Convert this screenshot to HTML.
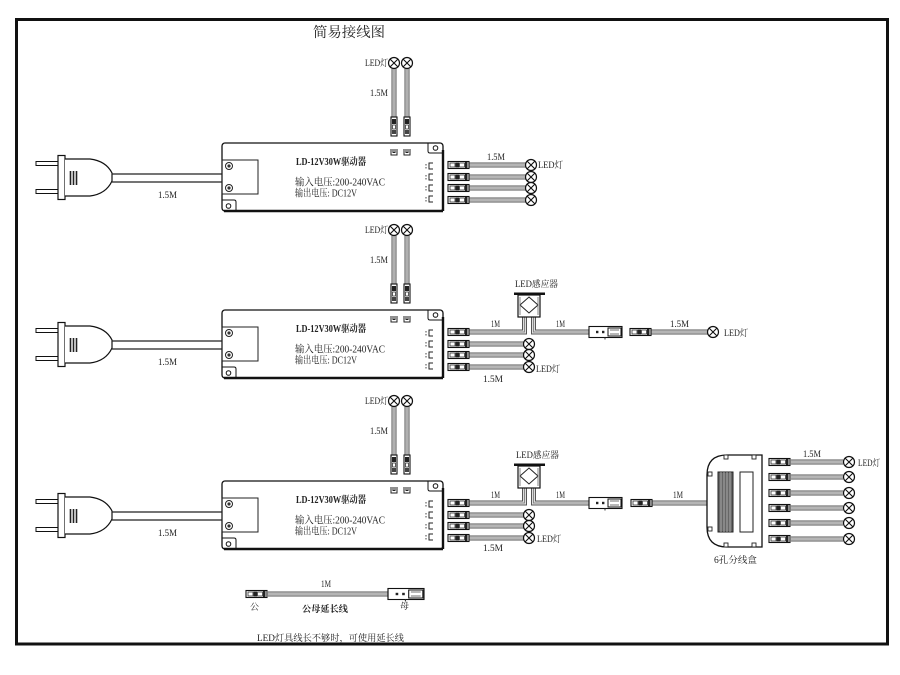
<!DOCTYPE html>
<html><head><meta charset="utf-8"><style>
html,body{margin:0;padding:0;background:#fff;}
svg{display:block;}
text{font-family:"Liberation Serif","Noto Serif CJK SC","Noto Sans CJK SC",serif;fill:#222;}
.s{font-size:9px;}
.d{font-size:10px;}
</style></head><body>
<svg width="900" height="675" viewBox="0 0 900 675" xmlns="http://www.w3.org/2000/svg">
<defs>
 <g id="lamp"><circle r="5.5" fill="#fff" stroke="#111" stroke-width="1.2"/><path d="M-3.9,-3.9L3.9,3.9M3.9,-3.9L-3.9,3.9" stroke="#111" stroke-width="1.1"/></g>
 <g id="conn">
  <rect x="0" y="-3.5" width="21" height="7" fill="#fff" stroke="#111" stroke-width="1.1"/>
  <rect x="2" y="-2" width="5" height="4" fill="#fff" stroke="#333" stroke-width="0.8"/>
  <rect x="7.5" y="-2.5" width="3.5" height="5" fill="#222"/>
  <rect x="11.5" y="-2" width="5" height="4" fill="#fff" stroke="#333" stroke-width="0.8"/>
  <rect x="17" y="-3" width="2.5" height="6" fill="#222"/>
 </g>
 <g id="vconn">
  <rect x="-3" y="0" width="6" height="19" fill="#fff" stroke="#111" stroke-width="1.1"/>
  <rect x="-2" y="2" width="4" height="5" fill="#222"/>
  <rect x="-1.5" y="8" width="3" height="4" fill="#fff" stroke="#333" stroke-width="0.8"/>
  <rect x="-2" y="13" width="4" height="4" fill="#444"/>
 </g>
 <g id="fconn">
  <rect x="0" y="-5.5" width="33" height="11" fill="#fff" stroke="#111" stroke-width="1.1"/>
  <rect x="7" y="-1.2" width="2.4" height="2.4" fill="#222"/>
  <rect x="13" y="-1.2" width="2.4" height="2.4" fill="#222"/>
  <rect x="19" y="-4" width="13" height="8" fill="#fff" stroke="#111" stroke-width="1"/>
  <path d="M21,-2H30M21,2H30" stroke="#444" stroke-width="0.7"/>
  <path d="M16,5.5V7.5" stroke="#333" stroke-width="1"/>
 </g>
 <g id="base">
  <!-- plug -->
  <rect x="36" y="161.5" width="22" height="4" fill="#fff" stroke="#111" stroke-width="1"/>
  <rect x="36" y="189.5" width="22" height="4" fill="#fff" stroke="#111" stroke-width="1"/>
  <rect x="58" y="155.5" width="7" height="44" fill="#fff" stroke="#111" stroke-width="1.2"/>
  <path d="M65,159 H90 Q106,161 112,173 V181 Q106,194 90,196 H65" fill="#fff" stroke="#111" stroke-width="1.2"/>
  <path d="M70.5,171V185M73.5,171V185M76.5,171V185" stroke="#222" stroke-width="1.6"/>
  <path d="M112,174H222M112,182H222" stroke="#222" stroke-width="1.2"/>
  <!-- driver -->
  <rect x="222" y="143" width="221" height="68" rx="3" fill="#fff" stroke="#111" stroke-width="1.3"/>
  <path d="M443,150V211M224,211H443" stroke="#111" stroke-width="2.4"/>
  <path d="M428,143V151Q428,153 430,153H443" fill="none" stroke="#111" stroke-width="1"/>
  <circle cx="435.5" cy="148" r="2.3" fill="none" stroke="#111" stroke-width="1"/>
  <path d="M222,200H234Q236,200 236,202V211" fill="none" stroke="#111" stroke-width="1"/>
  <circle cx="228.5" cy="206" r="2.3" fill="none" stroke="#111" stroke-width="1"/>
  <rect x="222" y="160" width="36" height="34" fill="none" stroke="#222" stroke-width="1"/>
  <circle cx="229" cy="166" r="3.5" fill="#fff" stroke="#222" stroke-width="1"/>
  <circle cx="229" cy="166" r="1.6" fill="#333"/>
  <circle cx="229" cy="188" r="3.5" fill="#fff" stroke="#222" stroke-width="1"/>
  <circle cx="229" cy="188" r="1.6" fill="#333"/>
  <path d="M391,149V155H397V149M393,149V152.5H395V149M404,149V155H410V149M406,149V152.5H408V149" fill="none" stroke="#222" stroke-width="1"/>
  <path d="M433,163H429V169H433M433,174H429V180H433M433,185H429V191H433M433,196H429V202H433" fill="none" stroke="#222" stroke-width="1"/>
  <path d="M426,164V165.5M426,167V168.5M426,175V176.5M426,178V179.5M426,186V187.5M426,189V190.5M426,197V198.5M426,200V201.5" stroke="#444" stroke-width="1"/>
  <!-- top verticals -->
  <use href="#lamp" x="394" y="63"/>
  <use href="#lamp" x="407" y="63"/>
  <use href="#vconn" x="394" y="117"/>
  <use href="#vconn" x="407" y="117"/>
  <!-- outputs -->
  <use href="#conn" x="448" y="165"/>
  <use href="#conn" x="448" y="177"/>
  <use href="#conn" x="448" y="188"/>
  <use href="#conn" x="448" y="200"/>
 </g>
 <g id="cab1">
  <path d="M394,69V117M407,69V117M469,165H525.5M469,177H525.5M469,188H525.5M469,200H525.5"/>
 </g>
 <g id="cab2">
  <path d="M394,69V117M407,69V117M469,165H524.5V150M533.5,150V165H589M651,165H707.5M469,177H523.5M469,188H523.5M469,200H523.5"/>
 </g>
 <g id="cab3">
  <path d="M394,69V117M407,69V117M469,165H524.5V150M533.5,150V165H589M652,165H707M469,177H523.5M469,188H523.5M469,200H523.5M791,124H843M791,139H843M791,155H843M791,170H843M791,185H843M791,201H843"/>
 </g>
 <g id="sensor">
  <rect x="514" y="125.5" width="31" height="2.5" fill="#111"/>
  <rect x="518" y="128" width="22" height="22" fill="#fff" stroke="#111" stroke-width="1.2"/>
  <path d="M529,130L538,138L529,146L520,138Z" fill="#fff" stroke="#222" stroke-width="1"/>
  <path d="M520,130V148M538,130V148" stroke="#666" stroke-width="0.8"/>
 </g>
</defs>

<!-- frame -->
<rect x="16.5" y="19.5" width="871" height="624.5" fill="none" stroke="#111" stroke-width="3"/>
<text x="313" y="37" font-size="14" textLength="72" lengthAdjust="spacingAndGlyphs">简易接线图</text>

<!-- ROW 1 -->
<g>
 <use href="#cab1" fill="none" stroke="#555" stroke-width="5"/>
 <use href="#cab1" fill="none" stroke="#e2e2e2" stroke-width="3"/>
 <use href="#cab1" fill="none" stroke="#888" stroke-width="1.1"/>
 <use href="#base"/>
 <use href="#lamp" x="531" y="165"/>
 <use href="#lamp" x="531" y="177"/>
 <use href="#lamp" x="531" y="188"/>
 <use href="#lamp" x="531" y="200"/>
 <text class="s" x="365" y="66" textLength="23" lengthAdjust="spacingAndGlyphs">LED灯</text>
 <text class="s" x="370" y="96" textLength="18" lengthAdjust="spacingAndGlyphs">1.5M</text>
 <text class="s" x="158" y="198" textLength="19" lengthAdjust="spacingAndGlyphs">1.5M</text>
 <text class="d" x="296" y="165" font-weight="bold" textLength="70" lengthAdjust="spacingAndGlyphs">LD-12V30W驱动器</text>
 <text class="d" x="295" y="185.5" textLength="90" lengthAdjust="spacingAndGlyphs">输入电压:200-240VAC</text>
 <text class="d" x="295" y="196.5" textLength="62" lengthAdjust="spacingAndGlyphs">输出电压: DC12V</text>
 <text class="s" x="487" y="160" textLength="18" lengthAdjust="spacingAndGlyphs">1.5M</text>
 <text class="s" x="538" y="168" textLength="25" lengthAdjust="spacingAndGlyphs">LED灯</text>
</g>

<!-- ROW 2 -->
<g transform="translate(0,167)">
 <use href="#cab2" fill="none" stroke="#555" stroke-width="5"/>
 <use href="#cab2" fill="none" stroke="#e2e2e2" stroke-width="3"/>
 <use href="#cab2" fill="none" stroke="#888" stroke-width="1.1"/>
 <use href="#base"/>
 <use href="#sensor"/>
 <use href="#fconn" x="589" y="165"/>
 <use href="#conn" x="630" y="165"/>
 <use href="#lamp" x="713" y="165"/>
 <use href="#lamp" x="529" y="177"/>
 <use href="#lamp" x="529" y="188"/>
 <use href="#lamp" x="529" y="200"/>
 <text class="s" x="365" y="66" textLength="23" lengthAdjust="spacingAndGlyphs">LED灯</text>
 <text class="s" x="370" y="96" textLength="18" lengthAdjust="spacingAndGlyphs">1.5M</text>
 <text class="s" x="158" y="198" textLength="19" lengthAdjust="spacingAndGlyphs">1.5M</text>
 <text class="d" x="296" y="165" font-weight="bold" textLength="70" lengthAdjust="spacingAndGlyphs">LD-12V30W驱动器</text>
 <text class="d" x="295" y="185.5" textLength="90" lengthAdjust="spacingAndGlyphs">输入电压:200-240VAC</text>
 <text class="d" x="295" y="196.5" textLength="62" lengthAdjust="spacingAndGlyphs">输出电压: DC12V</text>
 <text class="s" x="515" y="120" textLength="43" lengthAdjust="spacingAndGlyphs">LED感应器</text>
 <text class="s" x="491" y="160" textLength="9" lengthAdjust="spacingAndGlyphs">1M</text>
 <text class="s" x="556" y="160" textLength="9" lengthAdjust="spacingAndGlyphs">1M</text>
 <text class="s" x="670" y="160" textLength="19" lengthAdjust="spacingAndGlyphs">1.5M</text>
 <text class="s" x="724" y="169" textLength="24" lengthAdjust="spacingAndGlyphs">LED灯</text>
 <text class="s" x="536" y="205" textLength="24" lengthAdjust="spacingAndGlyphs">LED灯</text>
 <text class="s" x="483" y="215" textLength="20" lengthAdjust="spacingAndGlyphs">1.5M</text>
</g>

<!-- ROW 3 -->
<g transform="translate(0,338)">
 <use href="#cab3" fill="none" stroke="#555" stroke-width="5"/>
 <use href="#cab3" fill="none" stroke="#e2e2e2" stroke-width="3"/>
 <use href="#cab3" fill="none" stroke="#888" stroke-width="1.1"/>
 <use href="#base"/>
 <use href="#sensor"/>
 <use href="#fconn" x="589" y="165"/>
 <use href="#conn" x="631" y="165"/>
 <use href="#lamp" x="529" y="177"/>
 <use href="#lamp" x="529" y="188"/>
 <use href="#lamp" x="529" y="200"/>
 <!-- junction box -->
 <path d="M727,117H762V209H727Q707,209 707,189V137Q707,117 727,117Z" fill="#fff" stroke="#111" stroke-width="1.3"/>
 <rect x="718" y="134" width="15" height="60" fill="#666" stroke="#222" stroke-width="1"/>
 <path d="M721,134V194M724,134V194M727,134V194M730,134V194" stroke="#bbb" stroke-width="0.8"/>
 <rect x="740" y="134" width="13" height="60" fill="#fff" stroke="#222" stroke-width="1"/>
 <rect x="724" y="117" width="4" height="4" fill="#fff" stroke="#222" stroke-width="0.9"/>
 <rect x="752" y="117" width="4" height="4" fill="#fff" stroke="#222" stroke-width="0.9"/>
 <rect x="724" y="205" width="4" height="4" fill="#fff" stroke="#222" stroke-width="0.9"/>
 <rect x="752" y="205" width="4" height="4" fill="#fff" stroke="#222" stroke-width="0.9"/>
 <rect x="708" y="134" width="4" height="4" fill="#fff" stroke="#222" stroke-width="0.9"/>
 <rect x="708" y="189" width="4" height="4" fill="#fff" stroke="#222" stroke-width="0.9"/>
 <use href="#conn" x="769" y="124"/>
 <use href="#conn" x="769" y="139"/>
 <use href="#conn" x="769" y="155"/>
 <use href="#conn" x="769" y="170"/>
 <use href="#conn" x="769" y="185"/>
 <use href="#conn" x="769" y="201"/>
 <use href="#lamp" x="849" y="124"/>
 <use href="#lamp" x="849" y="139"/>
 <use href="#lamp" x="849" y="155"/>
 <use href="#lamp" x="849" y="170"/>
 <use href="#lamp" x="849" y="185"/>
 <use href="#lamp" x="849" y="201"/>
 <text class="s" x="365" y="66" textLength="23" lengthAdjust="spacingAndGlyphs">LED灯</text>
 <text class="s" x="370" y="96" textLength="18" lengthAdjust="spacingAndGlyphs">1.5M</text>
 <text class="s" x="158" y="198" textLength="19" lengthAdjust="spacingAndGlyphs">1.5M</text>
 <text class="d" x="296" y="165" font-weight="bold" textLength="70" lengthAdjust="spacingAndGlyphs">LD-12V30W驱动器</text>
 <text class="d" x="295" y="185.5" textLength="90" lengthAdjust="spacingAndGlyphs">输入电压:200-240VAC</text>
 <text class="d" x="295" y="196.5" textLength="62" lengthAdjust="spacingAndGlyphs">输出电压: DC12V</text>
 <text class="s" x="516" y="120" textLength="43" lengthAdjust="spacingAndGlyphs">LED感应器</text>
 <text class="s" x="491" y="160" textLength="9" lengthAdjust="spacingAndGlyphs">1M</text>
 <text class="s" x="556" y="160" textLength="9" lengthAdjust="spacingAndGlyphs">1M</text>
 <text class="s" x="673" y="160" textLength="10" lengthAdjust="spacingAndGlyphs">1M</text>
 <text class="s" x="537" y="204" textLength="24" lengthAdjust="spacingAndGlyphs">LED灯</text>
 <text class="s" x="483" y="213" textLength="20" lengthAdjust="spacingAndGlyphs">1.5M</text>
 <text class="s" x="803" y="119" textLength="18" lengthAdjust="spacingAndGlyphs">1.5M</text>
 <text class="s" x="858" y="128" textLength="22" lengthAdjust="spacingAndGlyphs">LED灯</text>
 <text class="s" x="714" y="225" textLength="43" lengthAdjust="spacingAndGlyphs">6孔分线盒</text>
</g>

<!-- extension cable -->
<path d="M268,594H388" fill="none" stroke="#555" stroke-width="5"/>
<path d="M268,594H388" fill="none" stroke="#e2e2e2" stroke-width="3"/>
<path d="M268,594H388" fill="none" stroke="#888" stroke-width="1.1"/>
<use href="#conn" x="246" y="594"/>
<g transform="translate(388,594) scale(1.09,1)"><use href="#fconn"/></g>
<text class="s" x="321" y="587" textLength="10" lengthAdjust="spacingAndGlyphs">1M</text>
<text class="s" x="250" y="610">公</text>
<text class="s" x="302" y="612" font-weight="bold" textLength="46" lengthAdjust="spacingAndGlyphs">公母延长线</text>
<text class="s" x="400" y="609">母</text>
<text class="s" x="257" y="641" textLength="147" lengthAdjust="spacingAndGlyphs" fill="#333">LED灯具线长不够时，可使用延长线</text>
</svg>
</body></html>
